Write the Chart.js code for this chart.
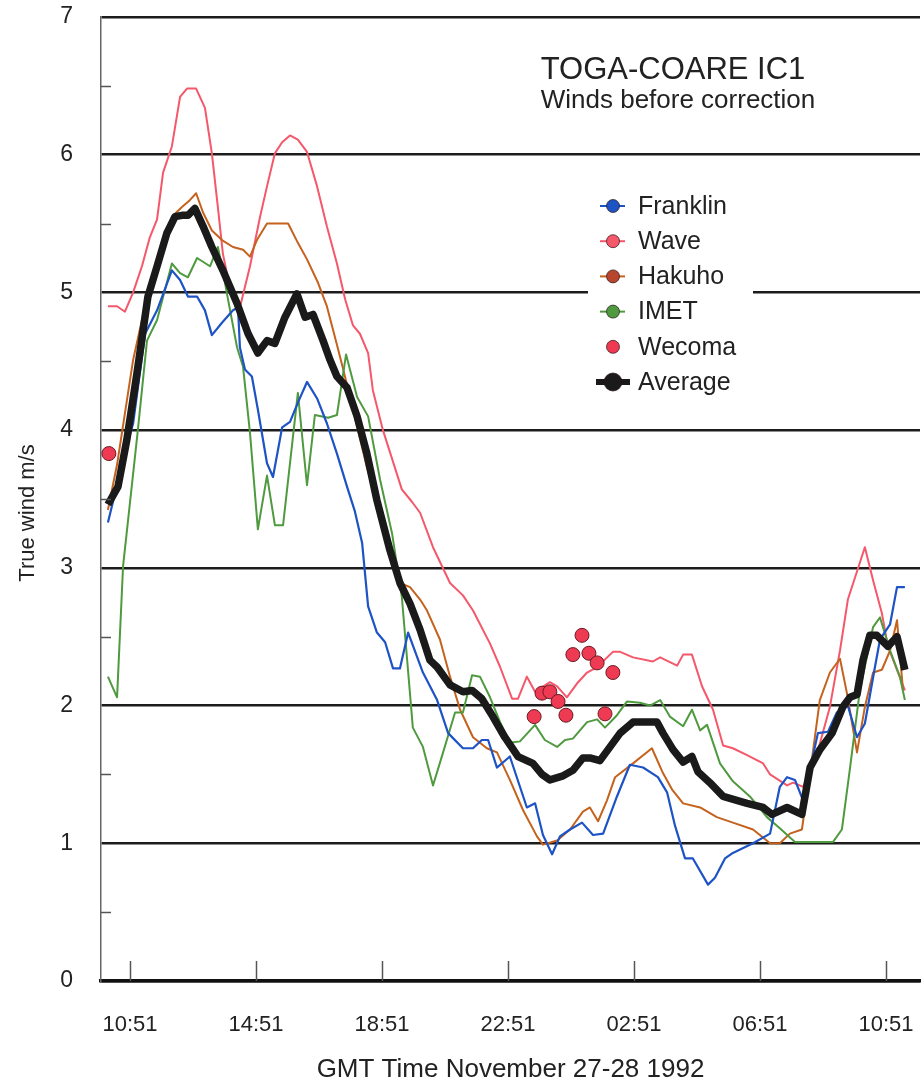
<!DOCTYPE html>
<html>
<head>
<meta charset="utf-8">
<title>TOGA-COARE IC1 - Winds before correction</title>
<script src="https://cdn.jsdelivr.net/npm/chart.js@4.4.1/dist/chart.umd.min.js"></script>
<style>
  body { margin: 0; background: #fff; }
  #windChart { display: block; }
</style>
</head>
<body>
<canvas id="windChart" width="922" height="1087"></canvas>
<script>
// time is in hours after 10:51 GMT, November 27 1992
const tickHours = [0, 4, 8, 12, 16, 20, 24];
const tickLabels = ["10:51", "14:51", "18:51", "22:51", "02:51", "06:51", "10:51"];
const minorWind = [0.5, 1.5, 2.5, 3.5, 4.5, 5.5, 6.5];

const franklinHours = [-0.70, -0.22, 0.10, 0.48, 0.86, 1.33, 1.59, 1.84, 2.13, 2.38, 2.60, 2.92, 3.27, 3.43, 3.49, 3.65, 3.87, 4.06, 4.35, 4.54, 4.83, 5.08, 5.33, 5.62, 5.94, 6.25, 6.57, 6.89, 7.14, 7.37, 7.56, 7.84, 8.10, 8.35, 8.57, 8.83, 9.30, 9.75, 10.10, 10.57, 10.89, 11.17, 11.37, 11.65, 12.06, 12.60, 12.86, 13.11, 13.40, 13.65, 13.97, 14.35, 14.70, 15.02, 15.46, 15.87, 16.29, 16.76, 17.05, 17.30, 17.62, 17.87, 18.35, 18.57, 18.89, 19.14, 19.78, 20.32, 20.63, 20.86, 21.11, 21.37, 21.84, 22.16, 22.44, 22.79, 23.08, 23.33, 23.65, 23.81, 24.13, 24.35, 24.60];
const franklinWind = [3.33, 3.78, 4.05, 4.70, 4.87, 5.16, 5.09, 4.97, 4.97, 4.87, 4.69, 4.78, 4.87, 4.89, 4.60, 4.44, 4.39, 4.15, 3.76, 3.66, 4.02, 4.06, 4.20, 4.35, 4.23, 4.05, 3.83, 3.59, 3.41, 3.18, 2.72, 2.53, 2.46, 2.27, 2.27, 2.53, 2.24, 2.04, 1.80, 1.69, 1.69, 1.75, 1.75, 1.55, 1.63, 1.26, 1.29, 1.06, 0.92, 1.05, 1.10, 1.15, 1.06, 1.07, 1.34, 1.57, 1.55, 1.48, 1.37, 1.13, 0.89, 0.89, 0.70, 0.75, 0.89, 0.93, 1.00, 1.07, 1.41, 1.48, 1.46, 1.31, 1.80, 1.81, 1.95, 2.00, 1.77, 1.87, 2.28, 2.48, 2.59, 2.86, 2.86];

const waveHours = [-0.70, -0.41, -0.16, 0.10, 0.38, 0.63, 0.86, 1.05, 1.33, 1.59, 1.81, 2.10, 2.38, 2.60, 2.79, 2.95, 3.17, 3.49, 3.81, 4.13, 4.35, 4.60, 4.83, 5.08, 5.33, 5.62, 5.94, 6.25, 6.57, 6.83, 7.08, 7.30, 7.56, 7.71, 8.03, 8.63, 8.95, 9.21, 9.62, 10.16, 10.57, 10.89, 11.43, 11.75, 12.13, 12.32, 12.60, 12.86, 13.33, 13.56, 13.87, 14.19, 14.51, 14.83, 15.33, 15.56, 15.97, 16.60, 16.83, 17.37, 17.56, 17.84, 18.16, 18.51, 18.83, 19.14, 19.59, 20.10, 20.32, 20.86, 21.05, 21.37, 21.75, 22.22, 22.54, 22.79, 23.33, 23.59, 23.87, 24.06, 24.35, 24.60];
const waveWind = [4.90, 4.90, 4.86, 5.00, 5.19, 5.40, 5.53, 5.87, 6.06, 6.42, 6.48, 6.48, 6.34, 6.01, 5.62, 5.28, 5.04, 4.89, 5.19, 5.55, 5.77, 6.01, 6.09, 6.14, 6.11, 6.02, 5.77, 5.48, 5.21, 4.95, 4.76, 4.70, 4.56, 4.29, 4.00, 3.57, 3.48, 3.40, 3.15, 2.89, 2.80, 2.69, 2.45, 2.28, 2.05, 2.05, 2.21, 2.10, 2.17, 2.14, 2.06, 2.16, 2.24, 2.28, 2.39, 2.39, 2.35, 2.32, 2.35, 2.29, 2.37, 2.37, 2.14, 1.97, 1.71, 1.69, 1.64, 1.58, 1.50, 1.42, 1.44, 1.41, 1.60, 1.99, 2.40, 2.77, 3.15, 2.91, 2.67, 2.43, 2.26, 2.11];

const hakuhoHours = [-0.70, -0.41, 0.10, 0.38, 0.86, 1.33, 1.65, 1.90, 2.10, 2.32, 2.60, 2.92, 3.27, 3.59, 3.81, 4.03, 4.35, 5.02, 5.33, 5.62, 5.97, 6.25, 6.57, 6.76, 7.08, 7.52, 7.94, 8.32, 8.57, 8.89, 9.21, 9.43, 9.84, 10.16, 10.48, 10.89, 11.33, 11.65, 12.06, 12.48, 12.92, 13.11, 13.56, 13.97, 14.38, 14.60, 14.86, 15.14, 15.40, 15.97, 16.57, 16.92, 17.21, 17.56, 18.10, 18.63, 19.14, 19.78, 20.32, 20.63, 20.95, 21.33, 21.59, 21.90, 22.22, 22.54, 22.76, 23.08, 23.33, 23.59, 23.87, 24.13, 24.35, 24.54];
const hakuhoWind = [3.42, 3.75, 4.51, 4.80, 5.19, 5.55, 5.62, 5.67, 5.72, 5.58, 5.45, 5.38, 5.33, 5.31, 5.26, 5.38, 5.50, 5.50, 5.36, 5.24, 5.07, 4.90, 4.62, 4.45, 4.15, 3.73, 3.40, 3.04, 2.89, 2.86, 2.77, 2.69, 2.48, 2.21, 1.97, 1.77, 1.69, 1.66, 1.46, 1.24, 1.05, 0.99, 1.02, 1.10, 1.23, 1.26, 1.16, 1.31, 1.48, 1.58, 1.69, 1.51, 1.39, 1.29, 1.26, 1.19, 1.15, 1.10, 1.00, 1.00, 1.07, 1.10, 1.51, 2.04, 2.24, 2.34, 2.09, 1.66, 1.99, 2.24, 2.26, 2.40, 2.62, 2.11];

const imetHours = [-0.70, -0.41, -0.22, 0.25, 0.54, 0.86, 1.33, 1.59, 1.84, 2.13, 2.54, 2.79, 2.92, 3.08, 3.40, 3.59, 3.81, 4.06, 4.35, 4.60, 4.86, 5.33, 5.62, 5.87, 6.29, 6.57, 6.86, 7.21, 7.56, 7.94, 8.32, 8.63, 8.98, 9.30, 9.62, 9.94, 10.32, 10.57, 10.86, 11.11, 11.43, 11.75, 12.06, 12.38, 12.86, 13.17, 13.56, 13.81, 14.06, 14.51, 14.83, 15.08, 15.46, 15.78, 16.19, 16.51, 16.83, 17.14, 17.56, 17.84, 18.10, 18.32, 18.73, 19.14, 19.68, 20.22, 20.63, 21.11, 22.32, 22.60, 22.86, 23.17, 23.59, 23.81, 24.13, 24.44, 24.60];
const imetWind = [2.21, 2.06, 3.01, 4.00, 4.65, 4.80, 5.21, 5.14, 5.11, 5.25, 5.19, 5.33, 5.19, 4.99, 4.60, 4.46, 3.98, 3.28, 3.67, 3.31, 3.31, 4.27, 3.60, 4.11, 4.09, 4.11, 4.55, 4.24, 4.10, 3.64, 3.25, 2.79, 1.84, 1.70, 1.42, 1.66, 1.95, 1.95, 2.22, 2.21, 2.06, 1.88, 1.73, 1.74, 1.86, 1.75, 1.70, 1.75, 1.76, 1.88, 1.90, 1.84, 1.93, 2.03, 2.02, 2.00, 2.04, 1.92, 1.85, 1.97, 1.82, 1.86, 1.58, 1.45, 1.34, 1.19, 1.11, 1.01, 1.01, 1.10, 1.55, 2.11, 2.57, 2.64, 2.40, 2.21, 2.04];

const wecomaHours = [-0.67, 12.83, 13.08, 13.33, 13.59, 13.84, 14.06, 14.35, 14.57, 14.83, 15.08, 15.33];
const wecomaWind = [3.83, 1.92, 2.09, 2.10, 2.03, 1.93, 2.37, 2.51, 2.38, 2.31, 1.94, 2.24];

const averageHours = [-0.70, -0.38, -0.10, 0.22, 0.57, 0.86, 1.17, 1.43, 1.65, 1.84, 2.06, 2.32, 2.60, 2.95, 3.40, 3.75, 4.06, 4.35, 4.60, 4.92, 5.30, 5.56, 5.81, 6.13, 6.35, 6.57, 6.89, 7.21, 7.52, 7.84, 8.25, 8.57, 8.89, 9.21, 9.52, 9.75, 10.16, 10.57, 10.86, 11.17, 11.52, 11.90, 12.32, 12.79, 13.08, 13.33, 13.75, 14.06, 14.38, 14.60, 14.92, 15.24, 15.56, 15.97, 16.73, 16.92, 17.24, 17.56, 17.84, 18.03, 18.41, 18.83, 19.59, 20.10, 20.38, 20.86, 21.33, 21.59, 21.90, 22.29, 22.63, 22.86, 23.08, 23.27, 23.49, 23.71, 24.06, 24.35, 24.60];
const averageWind = [3.46, 3.59, 3.93, 4.41, 4.97, 5.19, 5.43, 5.55, 5.56, 5.56, 5.61, 5.48, 5.33, 5.16, 4.92, 4.70, 4.56, 4.65, 4.63, 4.82, 4.99, 4.82, 4.84, 4.65, 4.51, 4.39, 4.31, 4.10, 3.83, 3.49, 3.13, 2.89, 2.74, 2.55, 2.33, 2.28, 2.15, 2.10, 2.11, 2.05, 1.92, 1.77, 1.63, 1.58, 1.50, 1.46, 1.49, 1.53, 1.62, 1.62, 1.60, 1.70, 1.80, 1.88, 1.88, 1.80, 1.68, 1.59, 1.63, 1.52, 1.44, 1.34, 1.29, 1.26, 1.21, 1.26, 1.21, 1.55, 1.68, 1.80, 1.99, 2.06, 2.08, 2.33, 2.51, 2.51, 2.43, 2.50, 2.26];

const FONT = "'Liberation Sans', Arial, Helvetica, sans-serif";
Chart.defaults.font.family = FONT;
Chart.defaults.color = '#222';

function pairs(hours, wind) {
    return hours.map((h, i) => ({ x: h, y: wind[i] }));
}

function lineSet(label, hours, wind, color, width, order) {
    return {
        label: label,
        data: pairs(hours, wind),
        borderColor: color,
        backgroundColor: color,
        borderWidth: width,
        borderJoinStyle: 'round',
        pointRadius: 0,
        tension: 0,
        order: order
    };
}

// keep the scales from pushing the plot area in for their edge labels
function noEdgePadding(scale) {
    scale.paddingTop = 0;
    scale.paddingBottom = 0;
    scale.paddingLeft = 0;
    scale.paddingRight = 0;
}

// title, legend box, y axis title and the inside tick marks
const decorations = {
    id: 'decorations',
    afterDraw(chart) {
        const { ctx, scales: { x, y } } = chart;
        ctx.save();

        // x ticks point up into the plot
        ctx.strokeStyle = '#555';
        ctx.lineWidth = 1.5;
        tickHours.forEach(h => {
            const px = Math.round(x.getPixelForValue(h)) + 0.5;
            ctx.beginPath();
            ctx.moveTo(px, y.bottom);
            ctx.lineTo(px, y.bottom - 20);
            ctx.stroke();
        });
        // half unit ticks on the wind axis
        minorWind.forEach(v => {
            const py = Math.round(y.getPixelForValue(v)) + 0.5;
            ctx.beginPath();
            ctx.moveTo(x.left, py);
            ctx.lineTo(x.left + 10, py);
            ctx.stroke();
        });

        ctx.fillStyle = '#222';
        ctx.textAlign = 'center';
        ctx.textBaseline = 'middle';

        // y axis title, sits a little below the middle of the axis
        ctx.save();
        ctx.translate(28, 513);
        ctx.rotate(-Math.PI / 2);
        ctx.font = '22px ' + FONT;
        ctx.fillText('True wind m/s', 0, 0);
        ctx.restore();

        // title
        ctx.font = '31px ' + FONT;
        ctx.fillText('TOGA-COARE IC1', 673, 70);
        ctx.font = '26px ' + FONT;
        ctx.fillText('Winds before correction', 678, 101);

        // legend
        ctx.fillStyle = '#fff';
        ctx.fillRect(588, 188, 165, 212);
        ctx.font = '25px ' + FONT;
        ctx.textAlign = 'left';
        chart.data.datasets.forEach((ds, i) => {
            const rowY = 206 + i * 35.2;
            const big = ds.label === 'Average';
            if (ds.showLine !== false) {
                ctx.strokeStyle = ds.borderColor;
                ctx.lineWidth = big ? 6 : 2;
                ctx.beginPath();
                ctx.moveTo(big ? 596 : 600, rowY);
                ctx.lineTo(big ? 630 : 625, rowY);
                ctx.stroke();
            }
            ctx.beginPath();
            ctx.arc(613, rowY, big ? 9 : 6.5, 0, Math.PI * 2);
            ctx.fillStyle = ds.legendFill || ds.backgroundColor;
            ctx.fill();
            ctx.strokeStyle = 'rgba(40,20,20,0.7)';
            ctx.lineWidth = 1;
            ctx.stroke();
            ctx.fillStyle = '#222';
            ctx.fillText(ds.label, 638, rowY + 1);
        });

        ctx.restore();
    }
};

const franklin = lineSet('Franklin', franklinHours, franklinWind, '#1d53c4', 2.2, 3);
const wave = lineSet('Wave', waveHours, waveWind, '#f4586a', 2, 6);
const hakuho = lineSet('Hakuho', hakuhoHours, hakuhoWind, '#c4621e', 2, 5);
hakuho.legendFill = '#b8452e';
const imet = lineSet('IMET', imetHours, imetWind, '#4f9a3f', 2, 4);
const average = lineSet('Average', averageHours, averageWind, '#1a1a1a', 7.5, 1);
const wecoma = {
    label: 'Wecoma',
    data: pairs(wecomaHours, wecomaWind),
    showLine: false,
    pointRadius: 7,
    pointBorderWidth: 1,
    pointBackgroundColor: '#ee3a52',
    pointBorderColor: '#6a1a22',
    backgroundColor: '#ee3a52',
    borderColor: '#ee3a52',
    order: 0
};

const ctx = document.getElementById('windChart').getContext('2d');

const chart = new Chart(ctx, {
    type: 'line',
    data: {
        datasets: [franklin, wave, hakuho, imet, wecoma, average]
    },
    options: {
        responsive: false,
        animation: false,
        devicePixelRatio: 1,
        layout: {
            autoPadding: false,
            padding: { top: 17, right: 2, left: 0, bottom: 0 }
        },
        plugins: {
            legend: { display: false },
            tooltip: { enabled: false }
        },
        scales: {
            x: {
                type: 'linear',
                min: -0.92,
                max: 25.08,
                afterBuildTicks: (scale) => {
                    scale.ticks = tickHours.map(h => ({ value: h }));
                },
                afterFit: (scale) => {
                    scale.height = 106;
                    noEdgePadding(scale);
                },
                ticks: {
                    padding: 31,
                    maxRotation: 0,
                    autoSkip: false,
                    font: { size: 22 },
                    color: '#222',
                    callback: (value, index) => tickLabels[index]
                },
                grid: { drawOnChartArea: false, drawTicks: false },
                border: { display: true, color: '#111', width: 3.5 },
                title: {
                    display: true,
                    text: 'GMT Time November 27-28 1992',
                    font: { size: 26 },
                    color: '#222',
                    padding: { top: 0, bottom: 2 }
                }
            },
            y: {
                min: 0,
                max: 7,
                afterFit: (scale) => {
                    scale.width = 101;
                    noEdgePadding(scale);
                },
                ticks: {
                    stepSize: 1,
                    padding: 28,
                    font: { size: 23 },
                    color: '#222'
                },
                grid: { color: '#1c1c1c', lineWidth: 2.5, drawTicks: false },
                border: { display: true, color: '#666', width: 1.5 }
            }
        }
    },
    plugins: [decorations]
});
</script>
</body>
</html>
